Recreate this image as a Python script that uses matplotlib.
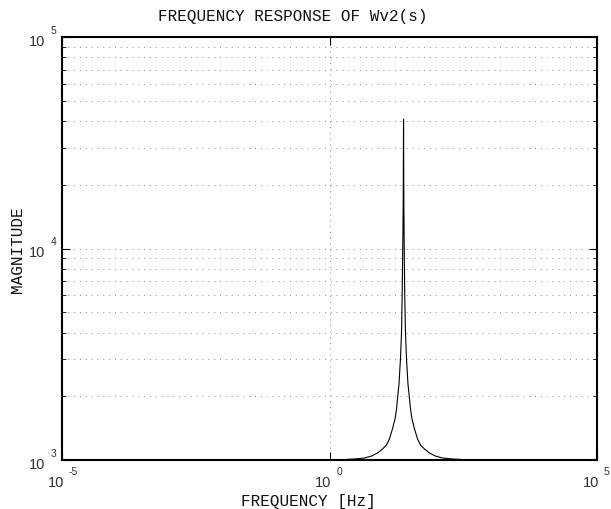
import numpy as np
import matplotlib
matplotlib.use("Agg")
import matplotlib.pyplot as plt
from matplotlib import transforms
from matplotlib.ticker import LogLocator, NullFormatter, NullLocator

# magnitude response (Hz, magnitude)
freq = [1e-5, 1.0, 1.91, 2.93, 4.51, 6.10, 7.89, 9.79, 11.6, 13.2, 15.0, 16.8,
        17.9, 18.9, 19.9, 21.2, 22.2, 22.8, 23.4, 23.9, 24.2, 24.5, 24.9, 25.5,
        26.3, 27.5, 29.3, 30.9, 32.7, 34.8, 38.8, 44.2, 50.2, 59.7, 74.0, 95.7,
        129, 199, 306, 637, 1e5]
mag = [1000, 1000, 1005, 1011, 1022, 1044, 1079, 1127, 1177, 1257, 1402, 1563,
       1743, 2006, 2288, 3004, 4028, 5955, 10050, 17140, 40870, 17140, 10050, 5955,
       4028, 3004, 2288, 2006, 1743, 1563, 1402, 1257, 1177, 1127, 1079, 1044,
       1022, 1011, 1005, 1000, 1000]

xticks = [1e-5, 1e0, 1e5]
xexp = ["-5", "0", "5"]
yticks = [1e3, 1e4, 1e5]
yexp = ["3", "4", "5"]

title = "FREQUENCY RESPONSE OF Wv2(s)"
xlabel = "FREQUENCY [Hz]"
ylabel = "MAGNITUDE"

W, H = 611, 510
fig = plt.figure(figsize=(W / 100, H / 100), dpi=100)
ax = fig.add_axes([62 / W, (H - 461) / H, (597 - 62) / W, (461 - 38) / H])

ax.plot(freq, mag, color="black", lw=0.8, zorder=3)
ax.set_xscale("log")
ax.set_yscale("log")
ax.set_xlim(1e-5, 1e5)
ax.set_ylim(1e3, 1e5)

ax.set_xticks(xticks)
ax.xaxis.set_minor_locator(NullLocator())
ax.set_yticks(yticks)
ax.yaxis.set_minor_locator(LogLocator(base=10, subs=np.arange(2, 10)))
ax.yaxis.set_minor_formatter(NullFormatter())
ax.set_xticklabels([])
ax.set_yticklabels([])
ax.tick_params(which="both", direction="in", top=True, right=True, color="black")
ax.tick_params(which="major", length=6, width=0.8)
ax.tick_params(which="minor", length=3, width=0.6)

grid_style = dict(color="#888888", linestyle=(0, (1, 5)), linewidth=0.7)
ax.grid(True, which="major", axis="both", **grid_style)
ax.grid(True, which="minor", axis="y", **grid_style)

for s in ax.spines.values():
    s.set_linewidth(1.5)

# tick labels drawn as "10" plus a raised exponent
tick_font = dict(family="Liberation Sans", color="#333333")
tx = transforms.blended_transform_factory(ax.transData, ax.transAxes)
for v, e in zip(xticks, xexp):
    t1 = transforms.offset_copy(tx, fig=fig, x=2, y=-22, units="dots")
    ax.text(v, 0, "10", transform=t1, ha="right", va="center", fontsize=10.5, **tick_font)
    t2 = transforms.offset_copy(tx, fig=fig, x=7, y=-11, units="dots")
    ax.text(v, 0, e, transform=t2, ha="left", va="center", fontsize=7.5, **tick_font)

ty = transforms.blended_transform_factory(ax.transAxes, ax.transData)
for v, e in zip(yticks, yexp):
    t1 = transforms.offset_copy(ty, fig=fig, x=-17, y=-4, units="dots")
    ax.text(0, v, "10", transform=t1, ha="right", va="center", fontsize=10.5, **tick_font)
    t2 = transforms.offset_copy(ty, fig=fig, x=-11, y=7, units="dots")
    ax.text(0, v, e, transform=t2, ha="left", va="center", fontsize=7.5, **tick_font)

mono = dict(family="Liberation Mono", color="#111111", fontsize=11.5)
fig.text(293 / W, 1 - 17 / H, title, ha="center", va="center", **mono)
fig.text(308 / W, 1 - 502 / H, xlabel, ha="center", va="center", **mono)
fig.text(18 / W, 1 - 250 / H, ylabel, ha="center", va="center", rotation=90, **mono)

fig.savefig("out.png", dpi=100)
